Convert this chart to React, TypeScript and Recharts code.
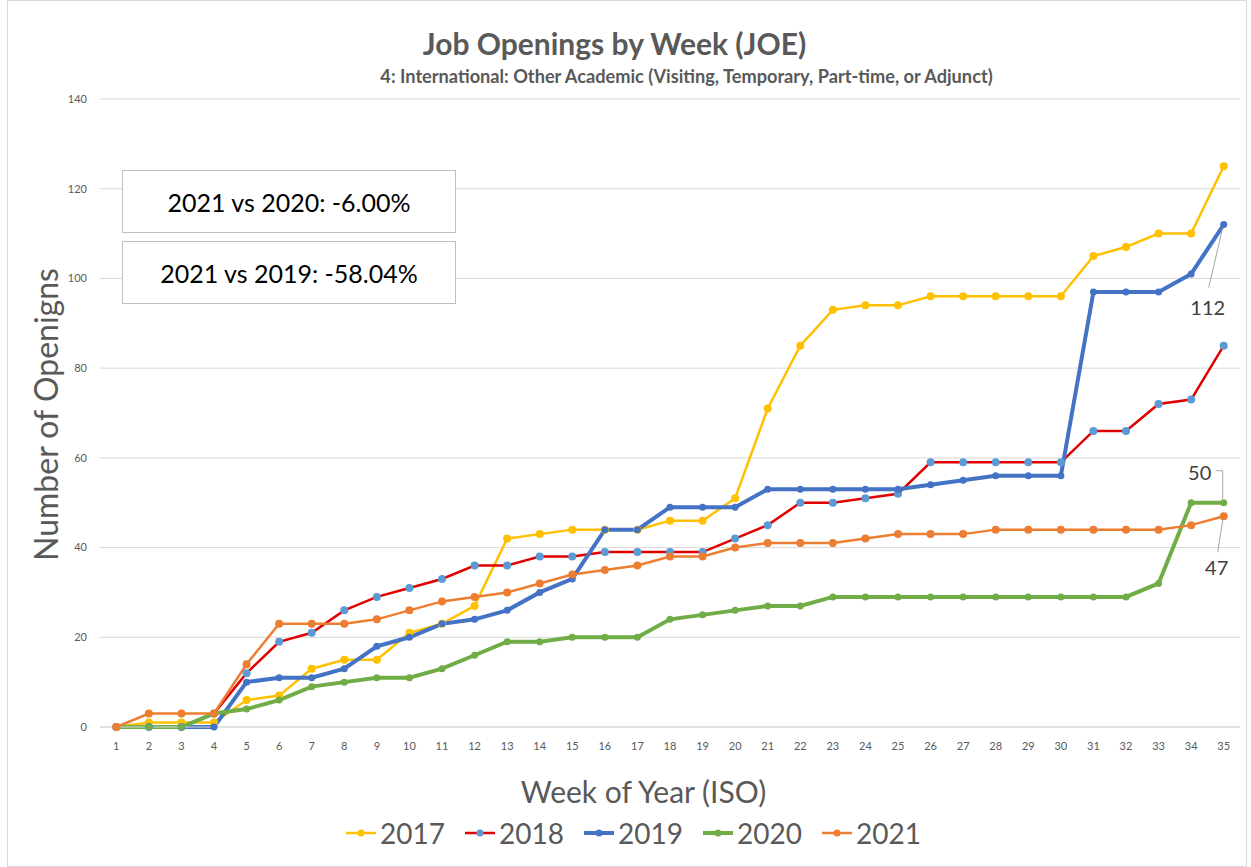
import { CartesianGrid, LabelList, Line, LineChart, XAxis, YAxis } from 'recharts'

const WEEKS = Array.from({ length: 35 }, (_, i) => i + 1)

const Y2017 = [0, 1, 1, 1, 6, 7, 13, 15, 15, 21, 23, 27, 42, 43, 44, 44, 44, 46, 46, 51, 71, 85, 93, 94, 94, 96, 96, 96, 96, 96, 105, 107, 110, 110, 125]
const Y2018 = [0, 0, 0, 3, 12, 19, 21, 26, 29, 31, 33, 36, 36, 38, 38, 39, 39, 39, 39, 42, 45, 50, 50, 51, 52, 59, 59, 59, 59, 59, 66, 66, 72, 73, 85]
const Y2019 = [0, 0, 0, 0, 10, 11, 11, 13, 18, 20, 23, 24, 26, 30, 33, 44, 44, 49, 49, 49, 53, 53, 53, 53, 53, 54, 55, 56, 56, 56, 97, 97, 97, 101, 112]
const Y2020 = [0, 0, 0, 3, 4, 6, 9, 10, 11, 11, 13, 16, 19, 19, 20, 20, 20, 24, 25, 26, 27, 27, 29, 29, 29, 29, 29, 29, 29, 29, 29, 29, 32, 50, 50]
const Y2021 = [0, 3, 3, 3, 14, 23, 23, 23, 24, 26, 28, 29, 30, 32, 34, 35, 36, 38, 38, 40, 41, 41, 41, 42, 43, 43, 43, 44, 44, 44, 44, 44, 44, 45, 47]

const Y_TICKS = [0, 20, 40, 60, 80, 100, 120, 140]
const COMPARISONS = ['2021 vs 2020: -6.00%', '2021 vs 2019: -58.04%']

const SERIES = [
  { key: 'y2017', name: '2017', values: Y2017, color: '#FFC000', dot: '#FFC000', width: 2.5, r: 4 },
  { key: 'y2018', name: '2018', values: Y2018, color: '#E00000', dot: '#5B9BD5', width: 2.5, r: 4 },
  { key: 'y2019', name: '2019', values: Y2019, color: '#4472C4', dot: '#4472C4', width: 4, r: 3.5 },
  { key: 'y2020', name: '2020', values: Y2020, color: '#70AD47', dot: '#70AD47', width: 4, r: 3.5 },
  { key: 'y2021', name: '2021', values: Y2021, color: '#ED7D31', dot: '#ED7D31', width: 2.5, r: 4 },
]

const data = WEEKS.map((w, i) => {
  const row: Record<string, number> = { week: w }
  for (const s of SERIES) row[s.key] = s.values[i]
  return row
})

const LAST = WEEKS.length - 1
const FONT = 'Lato, "Open Sans", sans-serif'

// leader-line labels on the last points
function endLabel(kind: string) {
  // eslint-disable-next-line @typescript-eslint/no-explicit-any
  return (p: any) => {
    if (p.index !== LAST) return null
    const x = Number(p.x)
    const y = Number(p.y)
    const txt = { fontSize: 20, fill: '#404040', fontFamily: FONT, textAnchor: 'middle' as const, dominantBaseline: 'central' as const }
    if (kind === '2019') {
      return (
        <g>
          <line x1={x - 1} y1={y + 3} x2={x - 15} y2={y + 63} stroke="#a6a6a6" strokeWidth={1} />
          <text x={x - 16} y={y + 82} {...txt}>{p.value}</text>
        </g>
      )
    }
    if (kind === '2020') {
      return (
        <g>
          <polyline points={`${x - 8},${y - 32} ${x - 1},${y - 32} ${x - 1},${y - 4}`} fill="none" stroke="#a6a6a6" strokeWidth={1} />
          <text x={x - 24} y={y - 31} {...txt}>{p.value}</text>
        </g>
      )
    }
    return (
      <g>
        <line x1={x - 6} y1={y + 36} x2={x - 1} y2={y + 4} stroke="#a6a6a6" strokeWidth={1} />
        <text x={x - 7} y={y + 51} {...txt}>{p.value}</text>
      </g>
    )
  }
}

export default function App() {
  return (
    <div style={{ position: 'absolute', left: 0, top: 0, width: 1251, height: 867, background: '#fff', fontFamily: FONT }}>
      <div style={{ position: 'absolute', left: 7, top: 0, width: 1238, height: 865, border: '1px solid #d9d9d9' }} />

      <LineChart
        width={1251}
        height={867}
        data={data}
        margin={{ top: 99, right: 11, bottom: 110, left: 50 }}
        style={{ position: 'absolute', left: 0, top: 0 }}
      >
        <CartesianGrid vertical={false} stroke="#d9d9d9" />
        <XAxis
          dataKey="week"
          type="number"
          domain={[0.5, 35.5]}
          ticks={WEEKS}
          interval={0}
          height={30}
          tickLine={false}
          axisLine={{ stroke: '#d9d9d9' }}
          tickMargin={9}
          tick={{ fontSize: 11, fill: '#595959', fontFamily: FONT }}
        />
        <YAxis
          domain={[0, 140]}
          ticks={Y_TICKS}
          width={50}
          tickLine={false}
          axisLine={false}
          tickMargin={7}
          tick={{ fontSize: 11, fill: '#595959', fontFamily: FONT }}
        />
        {SERIES.map((s) => (
          <Line
            key={s.key}
            dataKey={s.key}
            name={s.name}
            type="linear"
            stroke={s.color}
            strokeWidth={s.width}
            dot={{ r: s.r, fill: s.dot, stroke: s.dot, strokeWidth: 0 }}
            activeDot={false}
            isAnimationActive={false}
          >
            {s.name === '2019' || s.name === '2020' || s.name === '2021' ? (
              <LabelList dataKey={s.key} content={endLabel(s.name)} />
            ) : null}
          </Line>
        ))}
      </LineChart>

      {/* titles */}
      <div style={{ position: 'absolute', left: -11, width: 1251, top: 25, textAlign: 'center', fontSize: 30, fontWeight: 700, color: '#595959' }}>
        Job Openings by Week (JOE)
      </div>
      <div style={{ position: 'absolute', left: 61, width: 1251, top: 65, textAlign: 'center', fontSize: 18.2, fontWeight: 700, color: '#595959' }}>
        4: International: Other Academic (Visiting, Temporary, Part-time, or Adjunct)
      </div>

      {/* comparison boxes */}
      {COMPARISONS.map((c, i) => (
        <div
          key={c}
          style={{
            position: 'absolute',
            left: 122,
            top: 170 + i * 71,
            width: 332,
            height: 61,
            border: '1px solid #bfbfbf',
            background: '#fff',
            display: 'flex',
            alignItems: 'center',
            justifyContent: 'center',
            fontSize: 25,
            color: '#000',
          }}
        >
          {c}
        </div>
      ))}

      {/* axis titles */}
      <div
        style={{
          position: 'absolute',
          left: 45,
          top: 414,
          width: 0,
          height: 0,
          display: 'flex',
          alignItems: 'center',
          justifyContent: 'center',
        }}
      >
        <div style={{ transform: 'rotate(-90deg)', whiteSpace: 'nowrap', fontSize: 32, color: '#595959' }}>Number of Openigns</div>
      </div>
      <div style={{ position: 'absolute', left: 18, width: 1251, top: 773, textAlign: 'center', fontSize: 30, color: '#595959' }}>
        Week of Year (ISO)
      </div>

      {/* legend */}
      <div style={{ position: 'absolute', left: 8, width: 1251, top: 816, display: 'flex', justifyContent: 'center', gap: 20 }}>
        {SERIES.map((s) => (
          <div key={s.key} style={{ display: 'flex', alignItems: 'center', gap: 4 }}>
            <svg width={30} height={10}>
              <line x1={0} y1={5} x2={30} y2={5} stroke={s.color} strokeWidth={s.width} />
              <circle cx={15} cy={5} r={3.5} fill={s.dot} />
            </svg>
            <span style={{ fontSize: 28, color: '#595959' }}>{s.name}</span>
          </div>
        ))}
      </div>
    </div>
  )
}
